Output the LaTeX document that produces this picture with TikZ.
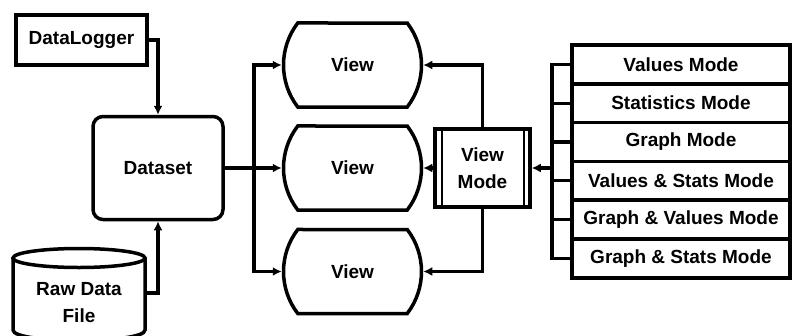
\documentclass[tikz,border=0pt]{standalone}
\usepackage{fontspec}
\setmainfont{Liberation Sans}
\usetikzlibrary{shapes.misc,arrows.meta}

\begin{document}
\begin{tikzpicture}[x=1pt,y=-1pt,>={Latex[length=9pt,width=9pt]},
  lbl/.style={font=\fontsize{19}{27}\selectfont\bfseries,align=center,inner sep=0pt},
  box/.style={lbl,draw,line width=3.5pt},
  viewbox/.style={box,rounded rectangle,rounded rectangle arc length=75,minimum width=135,minimum height=84},
  modebox/.style={box,minimum width=218,minimum height=38.8},
  wire/.style={line width=3.3pt}]
\useasboundingbox (0,0) rectangle (798,335);
\clip (0,0) rectangle (798,335);

% sources
\node[box,minimum width=131,minimum height=50] (dl) at (81.5,40) {DataLogger};
\node[box,rounded corners=10pt,minimum width=130,minimum height=103] (ds) at (158,168) {Dataset};
\draw[line width=3.5pt] (13,258) -- (13,330) .. controls (13,344) and (145,344) .. (145,330) -- (145,258);
\draw[line width=3.5pt,fill=white] (79,258) ellipse [x radius=66,y radius=9.5];
\node[lbl,minimum width=132] (raw) at (79,303) {Raw Data\\File};

% views
\foreach \i/\y in {1/65,2/168,3/271.5}
  \node[viewbox] (v\i) at (352.5,\y) {View};

\node[box,minimum width=95,minimum height=78] (vm) at (482.5,168) {View\\Mode};
\draw[line width=1.8pt] ([xshift=9pt]vm.north west) -- ([xshift=9pt]vm.south west);
\draw[line width=1.8pt] ([xshift=-8pt]vm.north east) -- ([xshift=-8pt]vm.south east);

% modes
\foreach \t [count=\i] in {Values Mode,Statistics Mode,Graph Mode,Values \& Stats Mode,Graph \& Values Mode,Graph \& Stats Mode}
  \node[modebox] (m\i) at (681,{25.6+38.8*\i}) {\t};

% connectors
\coordinate (split) at (254,168);
\coordinate (bar) at (552,168);
\draw[wire,->] (dl.east) -| (ds.north);
\draw[wire,->] ([yshift=10pt]raw.east) -| (ds.south);
\foreach \i in {1,2,3}
  \draw[wire,->] (ds.east) -- (split) |- (v\i.west);
\draw[wire,->] (vm.north) |- (v1.east);
\draw[wire,->] (vm.west) -- (v2.east);
\draw[wire,->] (vm.south) |- (v3.east);
\draw[wire] (m1.west) -| (bar) |- (m6.west);
\foreach \i in {2,...,5}
  \draw[wire] (m\i.west) -- (m\i.west -| bar);
\draw[wire,->] (bar) -- (vm.east);
\end{tikzpicture}
\end{document}
